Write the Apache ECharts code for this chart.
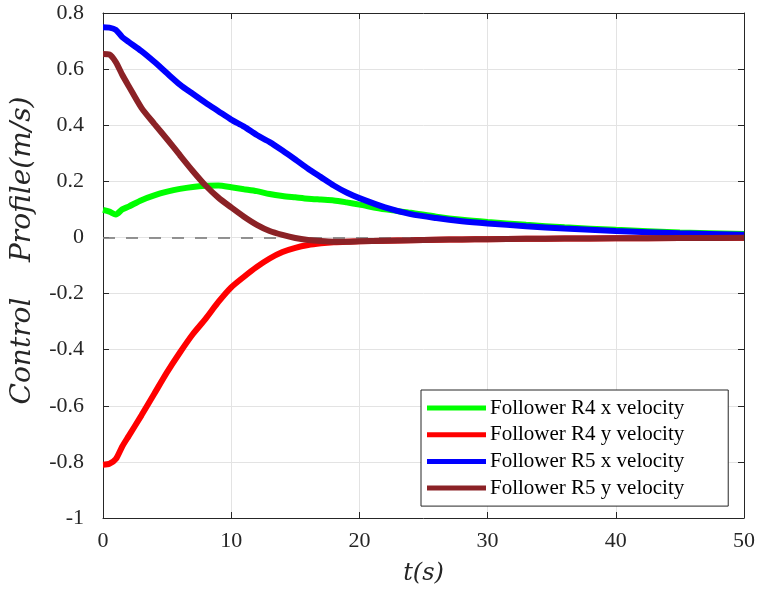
<!DOCTYPE html>
<html>
<head>
<meta charset="utf-8">
<script src="https://cdn.jsdelivr.net/npm/echarts@6/dist/echarts.min.js"></script>
<style>
  html, body { margin: 0; padding: 0; background: #fff; }
  #chart { width: 758px; height: 592px; }
</style>
</head>
<body>
<div id="chart"></div>
<script>
// sample times (s)
const times = [0, 0.5, 1, 1.5, 2, 3, 4, 5, 6, 7, 8, 9, 10, 11, 12, 13, 14, 15, 16, 17, 18, 19, 20, 22, 24, 26, 28, 30, 33, 36, 40, 45, 50];

const r4x = [0.098, 0.092, 0.082, 0.100, 0.110, 0.133, 0.150, 0.163, 0.173, 0.180, 0.184, 0.185, 0.179, 0.172, 0.165, 0.155, 0.148, 0.143, 0.138, 0.135, 0.132, 0.125, 0.117, 0.100, 0.088, 0.074, 0.063, 0.055, 0.045, 0.036, 0.027, 0.018, 0.012];
const r4y = [-0.810, -0.807, -0.790, -0.745, -0.708, -0.634, -0.557, -0.480, -0.410, -0.345, -0.290, -0.230, -0.178, -0.140, -0.105, -0.075, -0.052, -0.037, -0.027, -0.021, -0.017, -0.015, -0.014, -0.012, -0.010, -0.008, -0.007, -0.006, -0.005, -0.004, -0.003, -0.002, -0.001];
const r5x = [0.749, 0.748, 0.740, 0.714, 0.697, 0.664, 0.626, 0.585, 0.545, 0.512, 0.480, 0.450, 0.420, 0.395, 0.365, 0.340, 0.310, 0.278, 0.245, 0.215, 0.185, 0.160, 0.140, 0.107, 0.083, 0.069, 0.058, 0.050, 0.040, 0.032, 0.023, 0.015, 0.010];
const r5y = [0.654, 0.652, 0.625, 0.580, 0.540, 0.462, 0.405, 0.350, 0.293, 0.237, 0.185, 0.142, 0.107, 0.074, 0.045, 0.023, 0.009, -0.002, -0.009, -0.013, -0.015, -0.015, -0.014, -0.012, -0.010, -0.008, -0.007, -0.006, -0.005, -0.004, -0.003, -0.002, -0.001];

const names = ['Follower R4 x velocity', 'Follower R4 y velocity', 'Follower R5 x velocity', 'Follower R5 y velocity'];
const colors = ['#00ff00', '#ff0000', '#0000ff', '#8b2226'];

const serif = '"Liberation Serif", "DejaVu Serif", serif';
const mathFont = '"DejaVu Serif", serif';
const ink = '#262626';

const pair = vals => times.map((t, i) => [t, vals[i]]);

const chart = echarts.init(document.getElementById('chart'));

const axisCommon = {
  axisLine: { show: true, onZero: false, lineStyle: { color: ink, width: 1 } },
  axisTick: { show: true, inside: true, length: 6, lineStyle: { color: ink } },
};

chart.setOption({
  animation: false,
  color: colors,
  grid: { left: 103, right: 10, top: 13, bottom: 74 },
  legend: {
    orient: 'vertical',
    left: 421,
    top: 390,
    data: names.map(n => ({ name: n, icon: 'rect' })),
    itemWidth: 59,
    itemHeight: 5,
    itemGap: 4.7,
    padding: [7, 44, 7, 6],
    backgroundColor: '#fff',
    borderColor: ink,
    borderWidth: 1,
    borderRadius: 0,
    textStyle: { fontFamily: serif, fontSize: 21, color: '#000', lineHeight: 22, padding: [0, 0, 0, -1] }
  },
  xAxis: [{
    type: 'value', min: 0, max: 50, interval: 10,
    ...axisCommon,
    axisLabel: { fontFamily: serif, fontSize: 22, color: ink, margin: 12 },
    splitLine: { show: true, lineStyle: { color: '#e3e3e3', width: 1 } },
    name: 't(s)', nameLocation: 'middle', nameGap: 44,
    nameTextStyle: { fontFamily: mathFont, fontStyle: 'italic', fontSize: 24, color: ink }
  }, {
    type: 'value', min: 0, max: 50, interval: 10, position: 'top',
    ...axisCommon,
    axisLabel: { show: false }, splitLine: { show: false }
  }],
  yAxis: [{
    type: 'value', min: -1, max: 0.8, interval: 0.2,
    ...axisCommon,
    axisLabel: {
      fontFamily: serif, fontSize: 22, color: ink, margin: 19,
      formatter: v => {
        const r = Math.round(v * 10) / 10;
        return r === 0 ? '0' : String(r);
      }
    },
    splitLine: { show: true, lineStyle: { color: '#e3e3e3', width: 1 } },
    name: 'Control    Profile(m/s)', nameLocation: 'middle', nameGap: 66,
    nameTextStyle: { fontFamily: mathFont, fontStyle: 'italic', fontSize: 28, color: ink, padding: [0, 0, 0, 30] }
  }, {
    type: 'value', min: -1, max: 0.8, interval: 0.2, position: 'right',
    ...axisCommon,
    axisLabel: { show: false }, splitLine: { show: false }
  }],
  series: names.map((n, i) => ({
    name: n,
    type: 'line',
    data: pair([r4x, r4y, r5x, r5y][i]),
    showSymbol: false,
    symbol: 'none',
    smooth: 0.25,
    lineStyle: { width: 6, color: colors[i] },
    itemStyle: { color: colors[i] },
    z: 3 + i,
    markLine: i === 3 ? {
      silent: true, symbol: 'none', label: { show: false },
      lineStyle: { color: '#808080', type: [12, 11], width: 2, opacity: 0.85 },
      data: [{ yAxis: 0 }]
    } : undefined
  }))
});
</script>
</body>
</html>
